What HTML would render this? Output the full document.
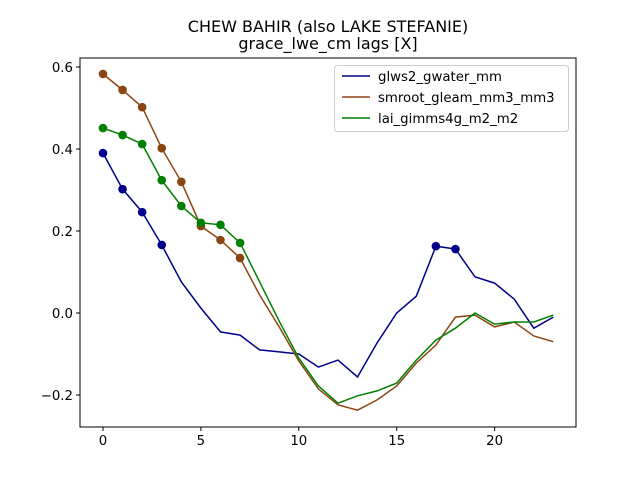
<!DOCTYPE html>
<html><head><meta charset="utf-8"><style>
body{margin:0;background:#fff;}
svg{display:block;font-family:"DejaVu Sans","Liberation Sans",sans-serif;}
</style></head><body>
<svg id="chart" width="640" height="480" xmlns="http://www.w3.org/2000/svg">
<rect width="640" height="480" fill="#fff"/>
<text x="328" y="32" font-size="16" text-anchor="middle">CHEW BAHIR (also LAKE STEFANIE)</text>
<text x="328" y="49" font-size="16" text-anchor="middle">grace_lwe_cm lags [X]</text>
<g id="plot"></g>
</svg>
<script>
const lags = [0,1,2,3,4,5,6,7,8,9,10,11,12,13,14,15,16,17,18,19,20,21,22,23];
const glwsValues = [0.39,0.302,0.246,0.166,0.076,0.012,-0.046,-0.054,-0.09,-0.095,-0.1,-0.132,-0.115,-0.156,-0.073,0.0,0.041,0.163,0.156,0.088,0.073,0.034,-0.037,-0.01];
const smrootValues = [0.583,0.544,0.502,0.402,0.32,0.212,0.178,0.134,0.044,-0.034,-0.117,-0.185,-0.224,-0.237,-0.212,-0.178,-0.122,-0.078,-0.01,-0.005,-0.034,-0.022,-0.056,-0.07];
const laiValues = [0.451,0.434,0.412,0.324,0.261,0.22,0.215,0.171,0.076,-0.02,-0.11,-0.178,-0.22,-0.202,-0.19,-0.171,-0.115,-0.066,-0.037,0.0,-0.027,-0.022,-0.022,-0.005];
const glwsMarked = [0,1,2,3,17,18];
const smrootMarked = [0,1,2,3,4,5,6,7];
const laiMarked = [0,1,2,3,4,5,6,7];
const xTicks = [0,5,10,15,20];
const yTicks = [-0.2,0.0,0.2,0.4,0.6];
const yTickLabels = ["\u22120.2","0.0","0.2","0.4","0.6"];
const seriesNames = ["glws2_gwater_mm","smroot_gleam_mm3_mm3","lai_gimms4g_m2_m2"];

const NS="http://www.w3.org/2000/svg";
const L=80,R=576,T=58,B=427;
const xS=v=>103+v*19.58;
const yS=v=>313-v*410;
const g=document.getElementById('plot');
function mk(tag,attrs,parent){const e=document.createElementNS(NS,tag);for(const k in attrs)e.setAttribute(k,attrs[k]);(parent||g).appendChild(e);return e;}

const series=[
 {vals:glwsValues,marks:glwsMarked,color:"#00008b",name:"glws2-series"},
 {vals:smrootValues,marks:smrootMarked,color:"#8b4513",name:"smroot-series"},
 {vals:laiValues,marks:laiMarked,color:"#008000",name:"lai-series"}
];
series.forEach(s=>{
 const grp=mk('g',{});
 
 
 const pts=s.vals.map((v,i)=>xS(lags[i]).toFixed(1)+','+yS(v).toFixed(1)).join(' ');
 const pl=mk('polyline',{points:pts,fill:'none',stroke:s.color,'stroke-width':1.5},grp);
 
 
 s.marks.forEach(i=>{
  const c=mk('circle',{cx:xS(lags[i]),cy:yS(s.vals[i]),r:4.3,fill:s.color},grp);
  
  
 });
});

const frame=mk('rect',{x:L,y:T,width:R-L,height:B-T,fill:'none',stroke:'#000','stroke-width':1});



xTicks.forEach(t=>{
 const x=xS(t);
 mk('line',{x1:x,x2:x,y1:B,y2:B+4,stroke:'#000','stroke-width':1});
 const tx=mk('text',{x:x,y:B+18,'font-size':13.3,'text-anchor':'middle'});
 tx.textContent=t;
 
 
});
yTicks.forEach((t,i)=>{
 const y=yS(t);
 mk('line',{x1:L-4,x2:L,y1:y,y2:y,stroke:'#000','stroke-width':1});
 const tx=mk('text',{x:L-7,y:y+5,'font-size':13.3,'text-anchor':'end'});
 tx.textContent=yTickLabels[i];
 
 
});

const lg=mk('g',{});


mk('rect',{x:334.5,y:65.5,width:234,height:66,rx:3,fill:'#fff','fill-opacity':0.8,stroke:'#ccc'},lg);
series.forEach((s,i)=>{
 const y=76+i*21;
 mk('line',{x1:342,x2:370,y1:y,y2:y,stroke:s.color,'stroke-width':1.5},lg);
 const tx=mk('text',{x:378,y:y+5,'font-size':13.3},lg);
 tx.textContent=seriesNames[i];
 
 
});
</script>
</body></html>
